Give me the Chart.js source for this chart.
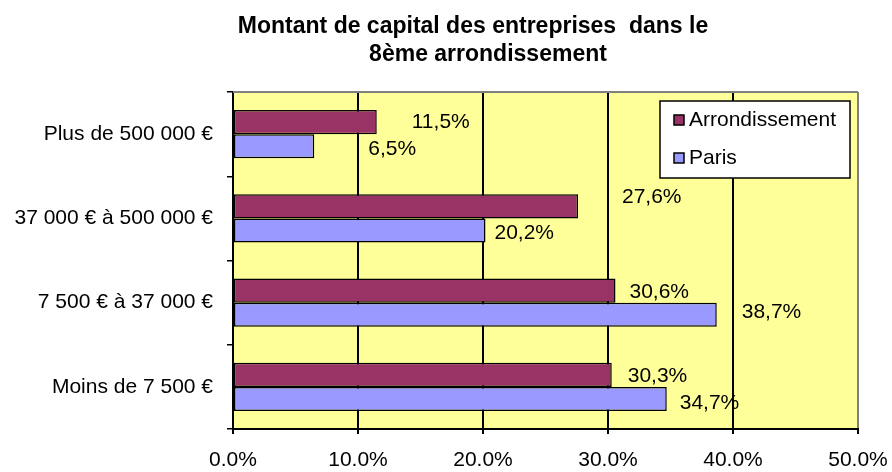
<!DOCTYPE html>
<html>
<head>
<meta charset="utf-8">
<script src="https://cdn.jsdelivr.net/npm/chart.js@4/dist/chart.umd.min.js"></script>
<style>
  html, body { margin: 0; padding: 0; background: #ffffff; }
  #wrap { width: 892px; height: 472px; position: relative; }
</style>
</head>
<body>
<div id="wrap"><canvas id="c" width="892" height="472"></canvas></div>
<script>
// ---- data ----
const titleLines = ["Montant de capital des entreprises  dans le", "8ème arrondissement"];
const categories = ["Plus de 500 000 €", "37 000 € à 500 000 €", "7 500 € à 37 000 €", "Moins de 7 500 €"];
const seriesNames = ["Arrondissement", "Paris"];
const arrondissement = [11.5, 27.6, 30.6, 30.3];
const paris = [6.5, 20.2, 38.7, 34.7];
const xTicks = [0, 10, 20, 30, 40, 50];

// ---- style ----
const FONT = "'Liberation Sans', Arial, sans-serif";
const colors = ["#993366", "#9999FF"];
// label nudges relative to the bar end (dx, dy) per series
const labelDx = [[35, 44, 14, 16], [54, 9, 25, 13]];
const labelDy = [[0, -9, 2, 1], [3, 3, -2, 4]];

const bgPlugin = {
  id: 'plotBg',
  beforeDraw(chart) {
    const { ctx, chartArea: a } = chart;
    ctx.save();
    ctx.fillStyle = '#FFFF99';
    ctx.fillRect(a.left, a.top, a.right - a.left, a.bottom - a.top);
    ctx.restore();
  },
  afterDraw(chart) {
    const { ctx, chartArea: a } = chart;
    ctx.save();
    ctx.strokeStyle = '#808080';
    ctx.lineWidth = 2;
    ctx.beginPath();
    ctx.moveTo(a.left, a.top);
    ctx.lineTo(a.right, a.top);
    ctx.stroke();
    ctx.restore();
  }
};

const labelPlugin = {
  id: 'barLabels',
  afterDatasetsDraw(chart) {
    const ctx = chart.ctx;
    ctx.save();
    ctx.font = '21px ' + FONT;
    ctx.fillStyle = '#000';
    ctx.textAlign = 'left';
    ctx.textBaseline = 'middle';
    chart.data.datasets.forEach((ds, di) => {
      const meta = chart.getDatasetMeta(di);
      meta.data.forEach((el, i) => {
        const txt = ds.data[i].toFixed(1).replace('.', ',') + '%';
        ctx.fillText(txt, el.x + labelDx[di][i], el.y + labelDy[di][i]);
      });
    });
    ctx.restore();
  }
};

const titlePlugin = {
  id: 'customTitle',
  afterDraw(chart) {
    const ctx = chart.ctx;
    ctx.save();
    ctx.font = 'bold 23px ' + FONT;
    ctx.fillStyle = '#000';
    ctx.textAlign = 'center';
    ctx.textBaseline = 'middle';
    ctx.fillText(titleLines[0], 473, 27);
    ctx.fillText(titleLines[1], 488, 55);
    ctx.restore();
  }
};

const legendPlugin = {
  id: 'customLegend',
  afterDraw(chart) {
    const ctx = chart.ctx;
    const x = 660, y = 101, w = 190, h = 77;
    ctx.save();
    ctx.fillStyle = '#fff';
    ctx.fillRect(x, y, w, h);
    ctx.strokeStyle = '#000';
    ctx.lineWidth = 1.5;
    ctx.strokeRect(x, y, w, h);
    ctx.font = '21px ' + FONT;
    ctx.textAlign = 'left';
    ctx.textBaseline = 'middle';
    chart.data.datasets.forEach((ds, i) => {
      const cy = y + 19 + i * 38;
      ctx.fillStyle = ds.backgroundColor;
      ctx.fillRect(x + 14, cy - 5, 10, 10);
      ctx.strokeStyle = '#000';
      ctx.lineWidth = 1.5;
      ctx.strokeRect(x + 14, cy - 5, 10, 10);
      ctx.fillStyle = '#000';
      ctx.fillText(ds.label, x + 29, cy);
    });
    ctx.restore();
  }
};

new Chart(document.getElementById('c'), {
  type: 'bar',
  data: {
    labels: categories,
    datasets: [
      { label: seriesNames[0], data: arrondissement, backgroundColor: colors[0], borderColor: '#000', borderWidth: 1.5, borderSkipped: false },
      { label: seriesNames[1], data: paris, backgroundColor: colors[1], borderColor: '#000', borderWidth: 1.5, borderSkipped: false }
    ]
  },
  options: {
    indexAxis: 'y',
    responsive: false,
    animation: false,
    devicePixelRatio: 1,
    layout: { padding: { top: 92, right: 34, bottom: 0, left: 0 } },
    datasets: { bar: { categoryPercentage: 0.571, barPercentage: 1 } },
    plugins: { legend: { display: false }, title: { display: false }, tooltip: { enabled: false } },
    scales: {
      x: {
        min: 0, max: 50,
        afterFit(s) { s.height = 43; s.paddingRight = 0; s.paddingLeft = 0; },
        afterBuildTicks(s) { s.ticks = xTicks.map(v => ({ value: v })); },
        ticks: {
          color: '#000', padding: 14,
          font: { family: FONT, size: 21 },
          callback: v => v.toFixed(1) + '%'
        },
        grid: {
          color: ctx => (ctx.tick && ctx.tick.value === 50) ? '#808080' : '#000',
          lineWidth: 2, tickLength: 5, drawTicks: true,
          tickColor: '#000'
        },
        border: { color: '#000', width: 2 }
      },
      y: {
        afterFit(s) { s.width = 233; s.paddingTop = 0; s.paddingBottom = 0; },
        ticks: { color: '#000', padding: 14, font: { family: FONT, size: 21 } },
        grid: { drawOnChartArea: false, drawTicks: true, tickLength: 6, color: '#000', lineWidth: 1.5, offset: true },
        border: { color: '#000', width: 2 }
      }
    }
  },
  plugins: [bgPlugin, labelPlugin, titlePlugin, legendPlugin]
});
</script>
</body>
</html>
